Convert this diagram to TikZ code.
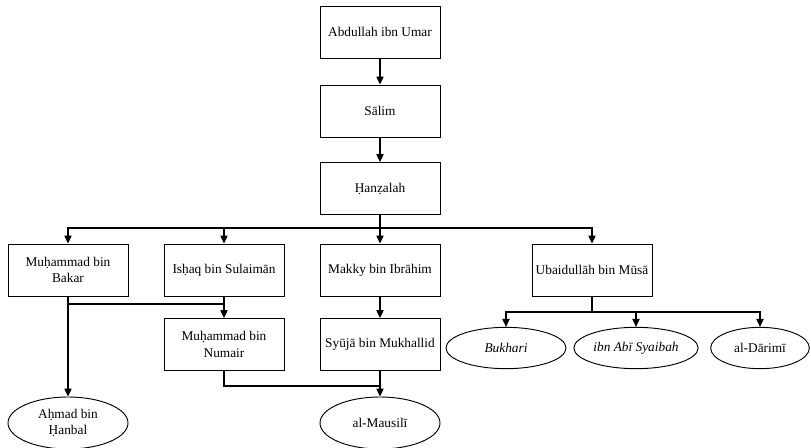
\documentclass[tikz,border=0pt]{standalone}
\usepackage{fontspec}
\setmainfont{Liberation Serif}
\usetikzlibrary{arrows.meta,shapes.geometric}
\tikzset{
  rawi/.style={draw, line width=0.7pt, minimum width=90pt, minimum height=39pt, align=center, inner sep=2pt},
  mukharrij/.style={draw, ellipse, line width=0.7pt, minimum width=90pt, minimum height=31pt, align=center, inner sep=1pt},
  sanad/.style={line width=0.8pt, -{Triangle[length=6pt,width=5.5pt]}},
  garis/.style={line width=0.8pt}
}
\begin{document}
\begin{tikzpicture}[x=0.75pt,y=-0.75pt,font=\fontsize{10}{12.5}\selectfont]
\useasboundingbox (0,0) rectangle (811,447);
\node[rawi] (abdullah) at (380,32) {Abdullah ibn Umar};
\node[rawi] (salim) at (380,111) {Sālim};
\node[rawi] (hanzalah) at (380,188.5) {Ḥanẓalah};
\node[rawi] (bakar) at (68,270) {Muḥammad bin\\Bakar};
\node[rawi] (ishaq) at (224,270) {Isḥaq bin Sulaimān};
\node[rawi] (makky) at (380,270) {Makky bin Ibrāhim};
\node[rawi] (ubaid) at (592,270) {Ubaidullāh bin Mūsā};
\node[rawi] (numair) at (224,344.5) {Muḥammad bin\\Numair};
\node[rawi] (syuja) at (380,344.5) {Syūjā bin Mukhallid};
\node[mukharrij, minimum height=39pt] (ahmad) at (68,423) {Aḥmad bin\\Ḥanbal};
\node[mukharrij, minimum height=39pt] (mausili) at (380,423) {al-Mausilī};
\node[mukharrij] (bukhari) at (506,348) {\itshape Bukhari};
\node[mukharrij] (syaibah) at (636,348) {\itshape ibn Abī Syaibah};
\node[mukharrij, minimum width=74pt] (darimi) at (760,348) {al-Dārimī};
\coordinate (cabang) at (380,228);
\coordinate (temu) at (224,304);
\coordinate (gabung) at (380,386);
\coordinate (pecah) at (592,312);
% jalur sanad
\draw[sanad] (abdullah) -- (salim);
\draw[sanad] (salim) -- (hanzalah);
\draw[garis] (hanzalah) -- (cabang);
\draw[sanad] (cabang) -| (bakar);
\draw[sanad] (cabang) -| (ishaq);
\draw[sanad] (cabang) -- (makky);
\draw[sanad] (cabang) -| (ubaid);
\draw[sanad] (bakar) -- (ahmad);
\draw[sanad] (ishaq) -- (numair);
\draw[garis] (temu) -- (bakar.south |- temu);
\draw[sanad] (makky) -- (syuja);
\draw[sanad] (syuja) -- (mausili);
\draw[garis] (numair.south) |- (gabung);
\draw[garis] (ubaid) -- (pecah);
\draw[sanad] (pecah) -| (bukhari);
\draw[sanad] (pecah) -| (syaibah);
\draw[sanad] (pecah) -| (darimi);
\end{tikzpicture}
\end{document}
